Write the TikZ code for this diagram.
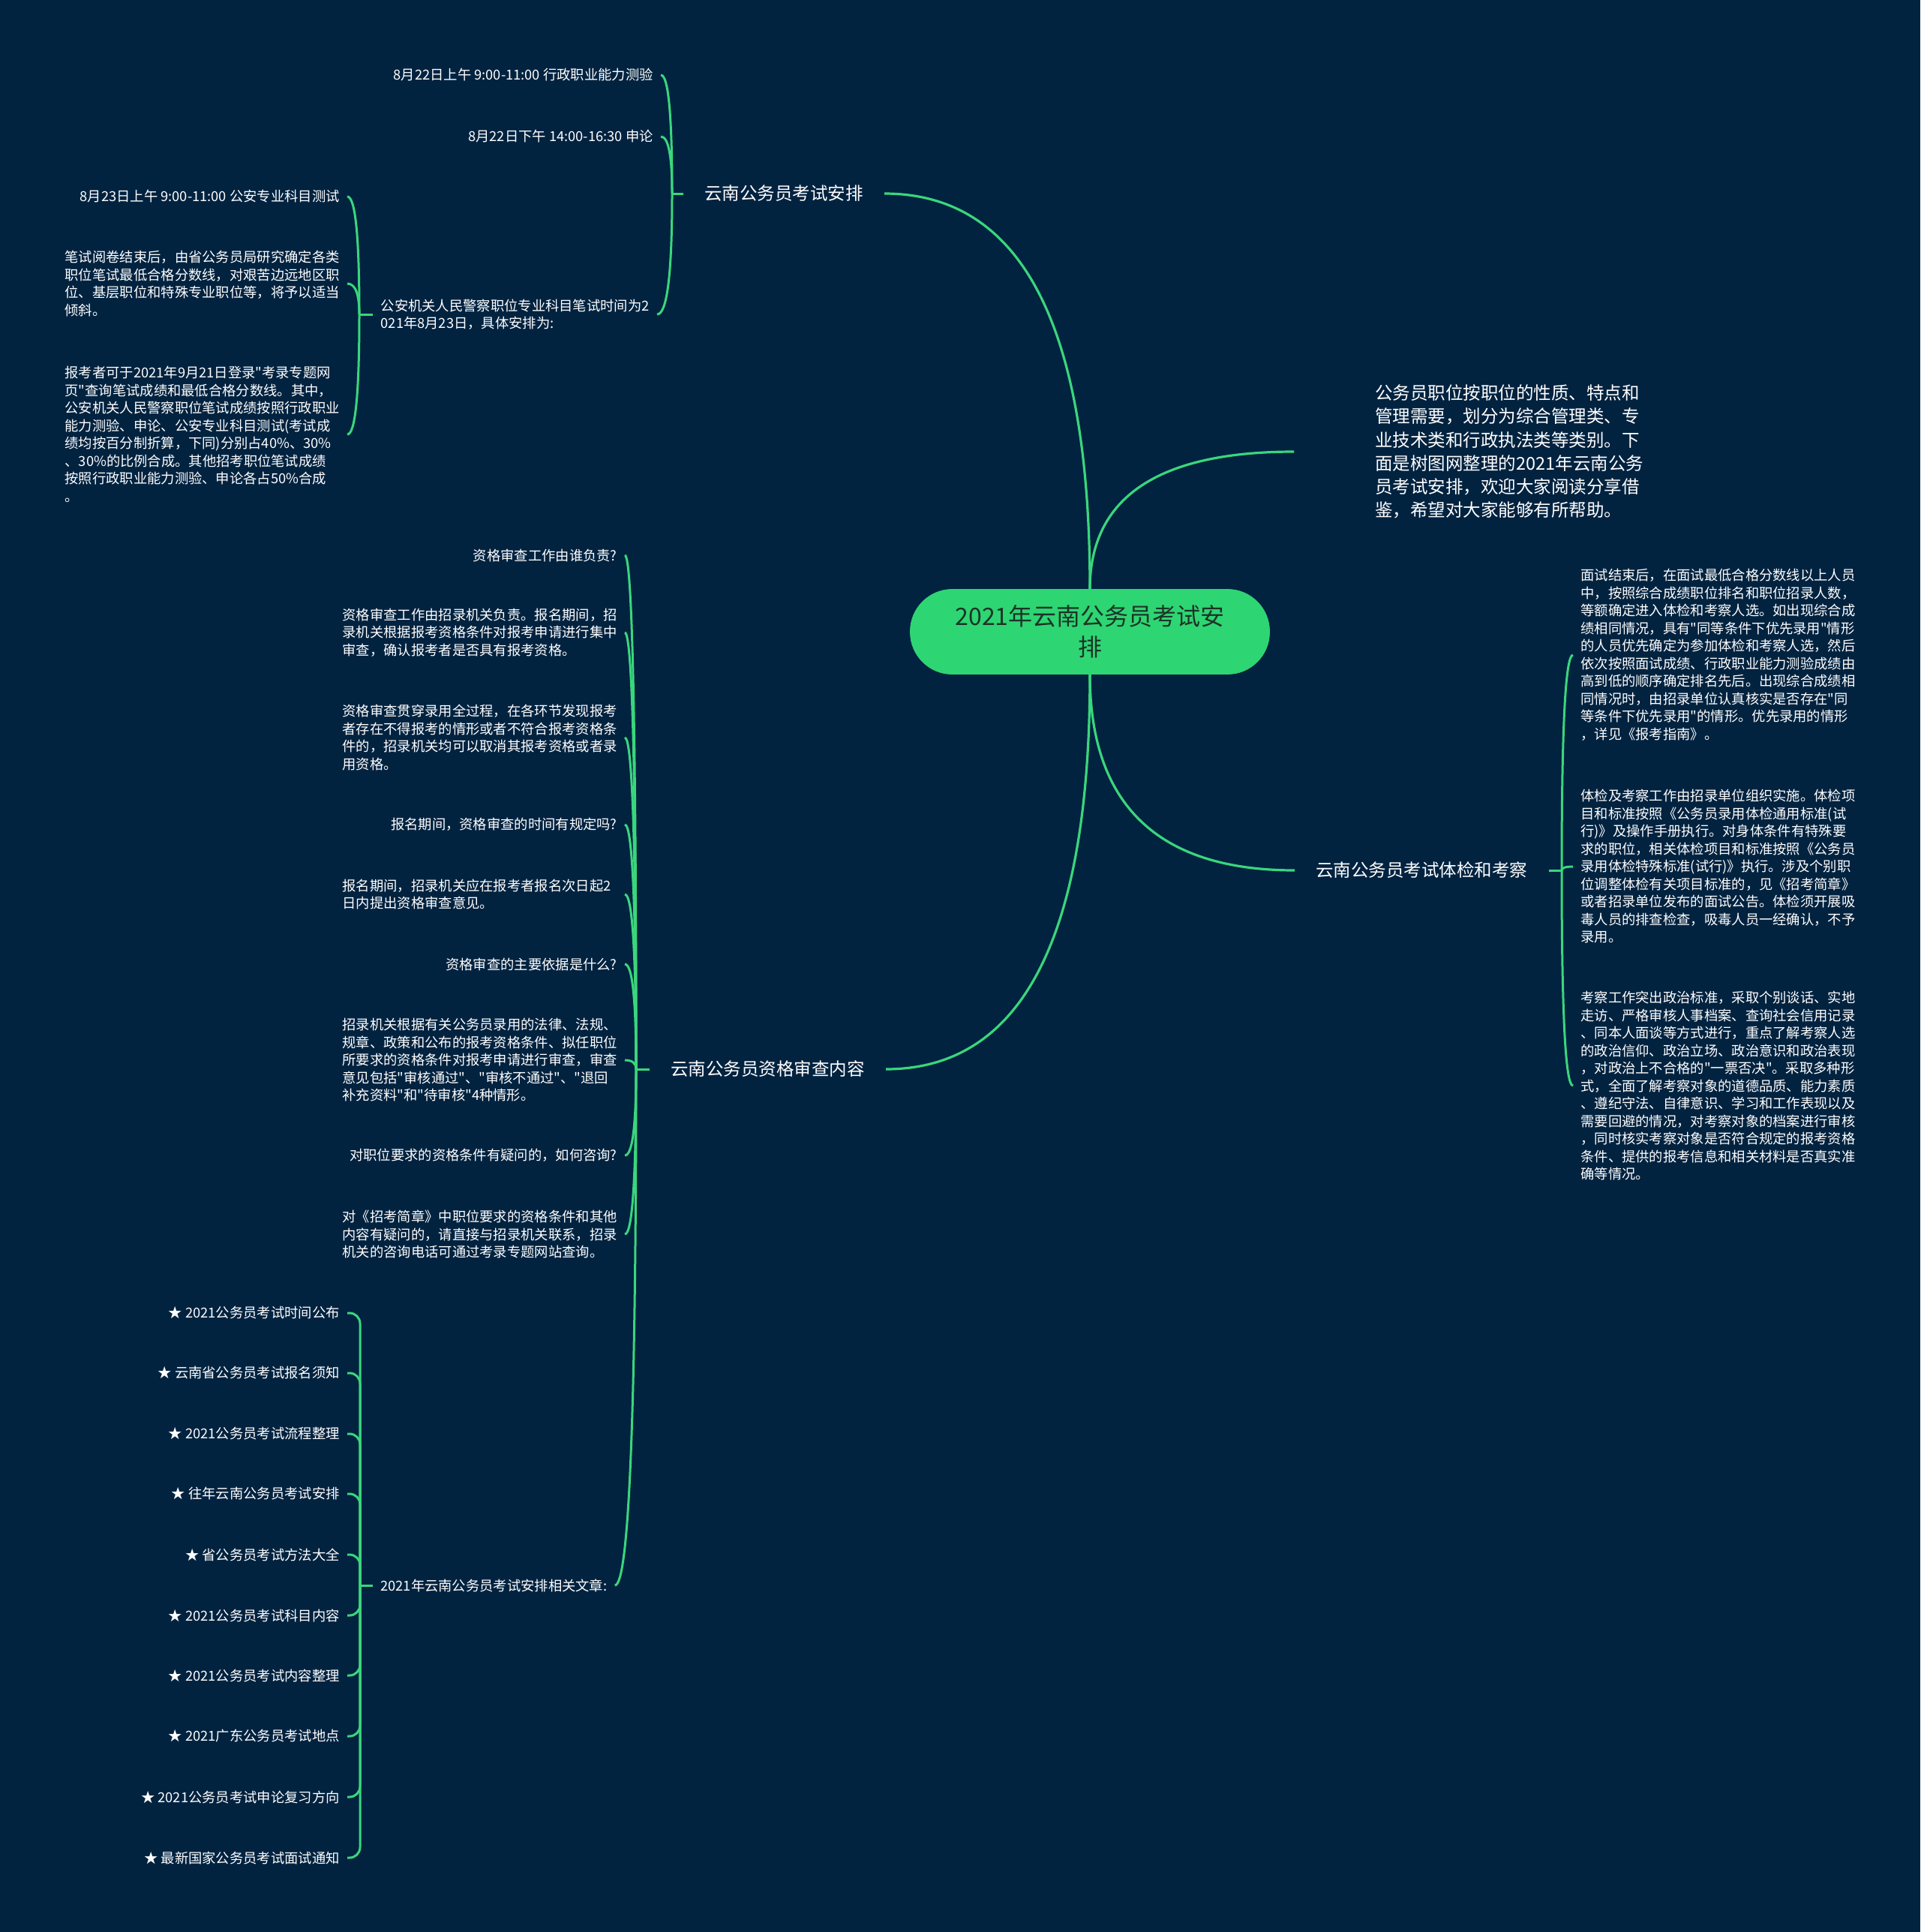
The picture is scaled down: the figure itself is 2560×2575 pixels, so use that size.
\documentclass[tikz,border=0pt]{standalone}
\usepackage{fontspec}
\setmainfont{Noto Sans CJK SC}[Ligatures=TeXOff]
\usetikzlibrary{calc}
\definecolor{bg}{HTML}{022340}
\definecolor{ln}{HTML}{3AD67C}
\definecolor{rootfill}{HTML}{2ED573}
\definecolor{roottext}{HTML}{1C3326}
\begin{document}
\begin{tikzpicture}[x=0.5pt,y=-0.5pt,
  conn/.style={draw=ln, line width=1.5pt},
  trunk/.style={draw=ln, line width=1.6pt},
  small/.style={text=white, font=\fontsize{9.15pt}{11.75pt}\selectfont, align=left, inner xsep=5pt, inner ysep=2pt},
  para/.style={text width=183pt},
  mid/.style={text=white, font=\fontsize{11.75pt}{15.6pt}\selectfont, inner xsep=14pt, inner ysep=3pt},
  rootnode/.style={fill=rootfill, draw=rootfill, rounded corners=28pt, minimum width=239.5pt, minimum height=56.5pt, align=center, text=roottext, font=\fontsize{16pt}{20.5pt}\selectfont, inner sep=0pt}]
\useasboundingbox (0,0) rectangle (2560,2575);
\fill[bg] (0,0) rectangle (2560,2575);

% root
\node[rootnode] (root) at (1453,842) {2021年云南公务员考试安\\排};

% level 1
\node[mid, anchor=east] (g1) at (1179,258) {云南公务员考试安排};
\node[mid, anchor=east] (g2) at (1181,1425) {云南公务员资格审查内容};
\node[mid, anchor=west] (g3) at (1726,1160) {云南公务员考试体检和考察};
\node[mid, anchor=west, align=left, inner xsep=54pt] (intro) at (1725,602) {公务员职位按职位的性质、特点和\\管理需要，划分为综合管理类、专\\业技术类和行政执法类等类别。下\\面是树图网整理的2021年云南公务\\员考试安排，欢迎大家阅读分享借\\鉴，希望对大家能够有所帮助。};

% spines
\coordinate (s1) at (896,258);
\coordinate (s2) at (479,419);
\coordinate (s3) at (848,1425);
\coordinate (s4) at (480,2113);
\coordinate (s5) at (2082,1160);

% group 1 children
\node[small, anchor=east] (c11) at (881,100) {8月22日上午 9:00-11:00 行政职业能力测验};
\node[small, anchor=east] (c12) at (881,182) {8月22日下午 14:00-16:30 申论};
\node[small, anchor=east] (c13) at (876,419) {公安机关人民警察职位专业科目笔试时间为2\\021年8月23日，具体安排为:};

\node[small, anchor=east] (d1) at (463,262) {8月23日上午 9:00-11:00 公安专业科目测试};
\node[small, para, anchor=east] (d2) at (463,378) {笔试阅卷结束后，由省公务员局研究确定各类\\职位笔试最低合格分数线，对艰苦边远地区职\\位、基层职位和特殊专业职位等，将予以适当\\倾斜。};
\node[small, para, anchor=east] (d3) at (463,579) {报考者可于2021年9月21日登录"考录专题网\\页"查询笔试成绩和最低合格分数线。其中，\\公安机关人民警察职位笔试成绩按照行政职业\\能力测验、申论、公安专业科目测试(考试成\\绩均按百分制折算，下同)分别占40\%、30\%\\、30\%的比例合成。其他招考职位笔试成绩\\按照行政职业能力测验、申论各占50\%合成\\。};

% group 2 children
\node[small, anchor=east] (e1) at (833,740) {资格审查工作由谁负责?};
\node[small, para, anchor=east] (e2) at (833,843) {资格审查工作由招录机关负责。报名期间，招\\录机关根据报考资格条件对报考申请进行集中\\审查，确认报考者是否具有报考资格。};
\node[small, para, anchor=east] (e3) at (833,983) {资格审查贯穿录用全过程，在各环节发现报考\\者存在不得报考的情形或者不符合报考资格条\\件的，招录机关均可以取消其报考资格或者录\\用资格。};
\node[small, anchor=east] (e4) at (833,1099) {报名期间，资格审查的时间有规定吗?};
\node[small, para, anchor=east] (e5) at (833,1192) {报名期间，招录机关应在报考者报名次日起2\\日内提出资格审查意见。};
\node[small, anchor=east] (e6) at (833,1285) {资格审查的主要依据是什么?};
\node[small, para, anchor=east] (e7) at (833,1413) {招录机关根据有关公务员录用的法律、法规、\\规章、政策和公布的报考资格条件、拟任职位\\所要求的资格条件对报考申请进行审查，审查\\意见包括"审核通过"、"审核不通过"、"退回\\补充资料"和"待审核"4种情形。};
\node[small, anchor=east] (e8) at (833,1540) {对职位要求的资格条件有疑问的，如何咨询?};
\node[small, para, anchor=east] (e9) at (833,1645) {对《招考简章》中职位要求的资格条件和其他\\内容有疑问的，请直接与招录机关联系，招录\\机关的咨询电话可通过考录专题网站查询。};
\node[small, anchor=west] (e10) at (497,2113) {2021年云南公务员考试安排相关文章:};

% related articles
\node[small, anchor=east] (a1) at (463,1750) {★ 2021公务员考试时间公布};
\node[small, anchor=east] (a2) at (463,1830) {★ 云南省公务员考试报名须知};
\node[small, anchor=east] (a3) at (463,1911) {★ 2021公务员考试流程整理};
\node[small, anchor=east] (a4) at (463,1991) {★ 往年云南公务员考试安排};
\node[small, anchor=east] (a5) at (463,2072) {★ 省公务员考试方法大全};
\node[small, anchor=east] (a6) at (463,2153) {★ 2021公务员考试科目内容};
\node[small, anchor=east] (a7) at (463,2233) {★ 2021公务员考试内容整理};
\node[small, anchor=east] (a8) at (463,2314) {★ 2021广东公务员考试地点};
\node[small, anchor=east] (a9) at (463,2395) {★ 2021公务员考试申论复习方向};
\node[small, anchor=east] (a10) at (463,2476) {★ 最新国家公务员考试面试通知};

% right group children
\node[small, anchor=west] (f1) at (2097,873) {面试结束后，在面试最低合格分数线以上人员\\中，按照综合成绩职位排名和职位招录人数，\\等额确定进入体检和考察人选。如出现综合成\\绩相同情况，具有"同等条件下优先录用"情形\\的人员优先确定为参加体检和考察人选，然后\\依次按照面试成绩、行政职业能力测验成绩由\\高到低的顺序确定排名先后。出现综合成绩相\\同情况时，由招录单位认真核实是否存在"同\\等条件下优先录用"的情形。优先录用的情形\\，详见《报考指南》。};
\node[small, anchor=west] (f2) at (2097,1155) {体检及考察工作由招录单位组织实施。体检项\\目和标准按照《公务员录用体检通用标准(试\\行)》及操作手册执行。对身体条件有特殊要\\求的职位，相关体检项目和标准按照《公务员\\录用体检特殊标准(试行)》执行。涉及个别职\\位调整体检有关项目标准的，见《招考简章》\\或者招录单位发布的面试公告。体检须开展吸\\毒人员的排查检查，吸毒人员一经确认，不予\\录用。};
\node[small, anchor=west] (f3) at (2097,1447) {考察工作突出政治标准，采取个别谈话、实地\\走访、严格审核人事档案、查询社会信用记录\\、同本人面谈等方式进行，重点了解考察人选\\的政治信仰、政治立场、政治意识和政治表现\\，对政治上不合格的"一票否决"。采取多种形\\式，全面了解考察对象的道德品质、能力素质\\、遵纪守法、自律意识、学习和工作表现以及\\需要回避的情况，对考察对象的档案进行审核\\，同时核实考察对象是否符合规定的报考资格\\条件、提供的报考信息和相关材料是否真实准\\确等情况。};

% trunk curves from root (quadratic shape)
\draw[trunk] (root.north) .. controls ($(root.north)!0.6667!(root.north |- g1.east)$) and ($(g1.east)!0.6667!(root.north |- g1.east)$) .. (g1.east);
\draw[trunk] (root.north) .. controls ($(root.north)!0.6667!(root.north |- intro.west)$) and ($(intro.west)!0.6667!(root.north |- intro.west)$) .. (intro.west);
\draw[trunk] (root.south) .. controls ($(root.south)!0.6667!(root.south |- g3.west)$) and ($(g3.west)!0.6667!(root.south |- g3.west)$) .. (g3.west);
\draw[trunk] (root.south) .. controls ($(root.south)!0.6667!(root.south |- g2.east)$) and ($(g2.east)!0.6667!(root.south |- g2.east)$) .. (g2.east);

% stubs
\draw[conn] (g1.west) -- (s1);
\draw[conn] (c13.west) -- (s2);
\draw[conn] (g2.west) -- (s3);
\draw[conn] (e10.west) -- (s4);
\draw[conn] (g3.east) -- (s5);

% group 1 connectors
\foreach \n in {c11,c12,c13}
  \draw[conn] (s1) .. controls ($(s1)!0.6667!(s1 |- \n.east)$) and ($(\n.east)!0.6667!(s1 |- \n.east)$) .. (\n.east);
\foreach \n in {d1,d2,d3}
  \draw[conn] (s2) .. controls ($(s2)!0.6667!(s2 |- \n.east)$) and ($(\n.east)!0.6667!(s2 |- \n.east)$) .. (\n.east);
% group 2 connectors
\foreach \n in {e1,e2,e3,e4,e5,e6,e7,e8,e9,e10}
  \draw[conn] (s3) .. controls ($(s3)!0.6667!(s3 |- \n.east)$) and ($(\n.east)!0.6667!(s3 |- \n.east)$) .. (\n.east);
% related articles: straight spine with small hooks
\foreach \n in {a1,a2,a3,a4,a5,a6,a7,a8,a9,a10}
  \draw[conn, rounded corners=7pt] (s4) |- (\n.east);
% right group connectors
\foreach \n in {f1,f2,f3}
  \draw[conn] (s5) .. controls ($(s5)!0.6667!(s5 |- \n.west)$) and ($(\n.west)!0.6667!(s5 |- \n.west)$) .. (\n.west);
\end{tikzpicture}
\end{document}
